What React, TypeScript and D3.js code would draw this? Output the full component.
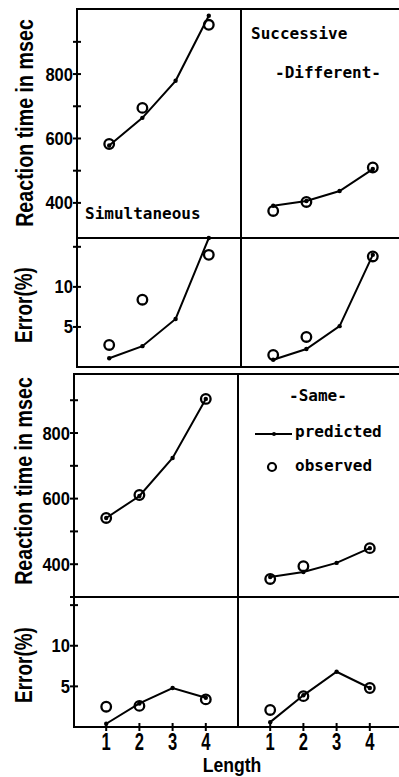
import React from 'react';
import * as d3 from 'd3';

// Length of the string (x categories)
const lengths = [1, 2, 3, 4];

// Different condition, simultaneous / successive
const simDiffRtPred = [578, 664, 779, 981];
const simDiffRtObs = [583, 695, null, 953];
const succDiffRtPred = [391, 406, 437, 505];
const succDiffRtObs = [375, 403, null, 510];
const simDiffErrPred = [1.1, 2.6, 6.0, 16.1];
const simDiffErrObs = [2.75, 8.4, null, 14];
const succDiffErrPred = [0.9, 2.25, 5.1, 14];
const succDiffErrObs = [1.5, 3.75, null, 13.8];

// Same condition
const simSameRtPred = [541, 608, 724, 904];
const simSameRtObs = [541, 611, null, 904];
const succSameRtPred = [361, 376, 404, 449];
const succSameRtObs = [355, 394, null, 449];
const simSameErrPred = [0.4, 2.9, 4.8, 3.6];
const simSameErrObs = [2.5, 2.6, null, 3.4];
const succSameErrPred = [0.6, 3.9, 6.8, 4.8];
const succSameErrObs = [2.1, 3.8, null, 4.8];

const rtTicks = [300, 400, 500, 600, 700, 800, 900];
const rtLabels = [400, 600, 800];
const errTicks = [5, 10, 15];
const errLabels = [5, 10];

const W = 399;
const H = 777;
const PW = 164; // panel width
const MONO = '"DejaVu Sans Mono", monospace';
const SANS = '"Liberation Sans", Arial, sans-serif';

const x = d3.scaleLinear().domain([0.03, 4.97]).range([0, PW]);

type Vals = (number | null)[];

const Series: React.FC<{ left: number; y: d3.ScaleLinear<number, number>; pred: Vals; obs: Vals }> = ({ left, y, pred, obs }) => {
  const line = d3.line<number | null>()
    .defined(d => d != null)
    .x((d, i) => left + x(lengths[i]))
    .y(d => y(d as number));
  return (
    <g>
      <path d={line(pred) || ''} fill="none" stroke="#000" strokeWidth={2} />
      {pred.map((d, i) => d == null ? null : (
        <circle key={'p' + i} cx={left + x(lengths[i])} cy={y(d)} r={2.2} fill="#000" />
      ))}
      {obs.map((d, i) => d == null ? null : (
        <circle key={'o' + i} cx={left + x(lengths[i])} cy={y(d)} r={4.8} fill="none" stroke="#000" strokeWidth={2.3} />
      ))}
    </g>
  );
};

const YAxis: React.FC<{ left: number; y: d3.ScaleLinear<number, number>; ticks: number[]; labels: number[] }> = ({ left, y, ticks, labels }) => (
  <g>
    {ticks.map(t => (
      <line key={t} x1={left - 4} x2={left + 4} y1={y(t)} y2={y(t)} stroke="#000" strokeWidth={2} />
    ))}
    {labels.map(t => (
      <text key={'l' + t} transform={`translate(${left - 4},${y(t)}) scale(0.92,1)`} dy="0.36em" textAnchor="end"
        fontSize={18} fontWeight="bold" fontFamily={SANS}>{t}</text>
    ))}
  </g>
);

const XAxis: React.FC<{ left: number; y0: number }> = ({ left, y0 }) => (
  <g>
    {lengths.map(v => (
      <g key={v}>
        <line x1={left + x(v)} x2={left + x(v)} y1={y0 - 4} y2={y0 + 4} stroke="#000" strokeWidth={2} />
        <text transform={`translate(${left + x(v)},${y0 + 23}) scale(0.72,1)`} textAnchor="middle"
          fontSize={23} fontWeight="bold" fontFamily={SANS}>{v}</text>
      </g>
    ))}
  </g>
);

const App: React.FC = () => {
  // top block (Different)
  const tLeft = 77, tMid = 241;
  const rtTop = d3.scaleLinear().domain([291, 1002]).range([238, 9]);
  const errTop = d3.scaleLinear().domain([0, 16.1]).range([367, 238]);
  // bottom block (Same)
  const bLeft = 74, bMid = 238;
  const rtBot = d3.scaleLinear().domain([300, 980]).range([597, 374]);
  const errBot = d3.scaleLinear().domain([0, 16]).range([727, 597]);

  const txt = { fontSize: 16, fontWeight: 'bold' as const, fontFamily: MONO };
  const title = { fontSize: 24, fontWeight: 'bold' as const, fontFamily: SANS, textAnchor: 'middle' as const };

  return (
    <svg width={W} height={H} style={{ position: 'absolute', left: 0, top: 0, background: '#fff' }}>
      {/* frames */}
      <g fill="none" stroke="#000" strokeWidth={2}>
        <rect x={tLeft} y={9} width={PW * 2} height={367 - 9} />
        <line x1={tLeft} x2={tLeft + PW * 2} y1={238} y2={238} />
        <line x1={tMid} x2={tMid} y1={9} y2={367} />
        <rect x={bLeft} y={374} width={PW * 2} height={727 - 374} />
        <line x1={bLeft} x2={bLeft + PW * 2} y1={597} y2={597} />
        <line x1={bMid} x2={bMid} y1={374} y2={727} />
      </g>

      <YAxis left={tLeft} y={rtTop} ticks={rtTicks.filter(t => t >= 400)} labels={rtLabels} />
      <YAxis left={tLeft} y={errTop} ticks={errTicks} labels={errLabels} />
      <YAxis left={bLeft} y={rtBot} ticks={rtTicks} labels={rtLabels} />
      <YAxis left={bLeft} y={errBot} ticks={errTicks} labels={errLabels} />
      <XAxis left={bLeft} y0={727} />
      <XAxis left={bMid} y0={727} />

      <Series left={tLeft} y={rtTop} pred={simDiffRtPred} obs={simDiffRtObs} />
      <Series left={tMid} y={rtTop} pred={succDiffRtPred} obs={succDiffRtObs} />
      <Series left={tLeft} y={errTop} pred={simDiffErrPred} obs={simDiffErrObs} />
      <Series left={tMid} y={errTop} pred={succDiffErrPred} obs={succDiffErrObs} />
      <Series left={bLeft} y={rtBot} pred={simSameRtPred} obs={simSameRtObs} />
      <Series left={bMid} y={rtBot} pred={succSameRtPred} obs={succSameRtObs} />
      <Series left={bLeft} y={errBot} pred={simSameErrPred} obs={simSameErrObs} />
      <Series left={bMid} y={errBot} pred={succSameErrPred} obs={succSameErrObs} />

      {/* panel texts */}
      <text x={85} y={219} {...txt}>Simultaneous</text>
      <text x={251} y={39} {...txt}>Successive</text>
      <text x={275} y={78} {...txt}>-Different-</text>
      <text x={289} y={401} {...txt}>-Same-</text>

      {/* legend */}
      <line x1={255} x2={292} y1={434} y2={434} stroke="#000" strokeWidth={2} />
      <circle cx={274} cy={434} r={2} fill="#000" />
      <text x={295} y={437} {...txt}>predicted</text>
      <circle cx={272} cy={467} r={4} fill="none" stroke="#000" strokeWidth={2.2} />
      <text x={295} y={471} {...txt}>observed</text>

      {/* axis titles */}
      <text transform="translate(33,123) rotate(-90) scale(0.82,1)" {...title}>Reaction time in msec</text>
      <text transform="translate(32,305) rotate(-90) scale(0.79,1)" {...title}>Error(%)</text>
      <text transform="translate(32,481) rotate(-90) scale(0.82,1)" {...title}>Reaction time in msec</text>
      <text transform="translate(32,665) rotate(-90) scale(0.79,1)" {...title}>Error(%)</text>
      <text transform="translate(232,772) scale(0.88,1)" fontSize={20} fontWeight="bold" fontFamily={SANS} textAnchor="middle">Length</text>
    </svg>
  );
};

export default App;
